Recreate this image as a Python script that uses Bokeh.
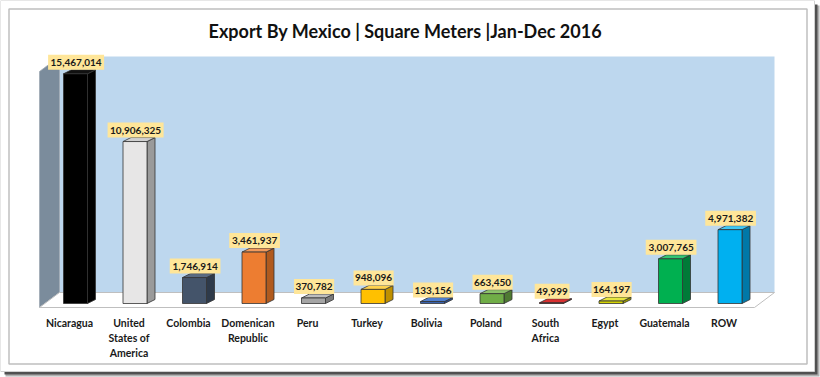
from bokeh.plotting import figure
from bokeh.models import Range1d, ColumnDataSource
from bokeh.core.properties import value
from bokeh.embed import file_html
from bokeh.resources import INLINE

# ---------------- data ----------------
countries = ["Nicaragua", "United\nStates of\nAmerica", "Colombia", "Domenican\nRepublic",
             "Peru", "Turkey", "Bolivia", "Poland", "South\nAfrica", "Egypt", "Guatemala", "ROW"]
values = [15467014, 10906325, 1746914, 3461937, 370782, 948096, 133156, 663450,
          49999, 164197, 3007765, 4971382]
title_text = "Export By  Mexico | Square Meters |Jan-Dec 2016"

front_colors = ["#000000", "#E7E6E6", "#44546A", "#ED7D31", "#A5A5A5", "#FFC000",
                "#3A64B0", "#70AD47", "#C00000", "#D4D400", "#00B050", "#00B0F0"]
side_colors = ["#000000", "#9A9A9A", "#2E3A4A", "#B05A1E", "#7A7A7A", "#BF9000",
               "#254A8A", "#4E7A32", "#7A0000", "#9A9A00", "#007A38", "#0078A8"]
top_colors = ["#111111", "#D0D0D0", "#5A6B82", "#F29A5C", "#BDBDBD", "#FFD24D",
              "#4F7FD0", "#8CC26A", "#D83030", "#E6E640", "#33C573", "#40C8F5"]

# ---------------- pixel <-> data mapping ----------------
W, H = 820, 377
X0, DXP = 75.0, 59.5      # pixel x of first category, pixels per category
Y0, S = 303.0, 14.85      # pixel y of zero, pixels per million


def xd(px):
    return (px - X0) / DXP


def yd(py):
    return (Y0 - py) / S * 1e6


p = figure(width=W, height=H, x_range=Range1d(xd(0), xd(W)), y_range=Range1d(yd(H), yd(0)),
           x_axis_type=None, y_axis_type=None, toolbar_location=None,
           output_backend="svg", min_border=0, outline_line_color=None,
           background_fill_color="white", border_fill_color="white")
p.min_border_left = p.min_border_right = p.min_border_top = p.min_border_bottom = 0


def rect_px(x1, y1, x2, y2, **kw):
    p.quad(left=xd(x1), right=xd(x2), top=yd(y1), bottom=yd(y2), **kw)


def poly_px(pts, **kw):
    p.patch([xd(a) for a, b in pts], [yd(b) for a, b in pts], **kw)


# outer picture frame with shadow
rect_px(5, 5, 819, 376, fill_color="#B0B0B0", line_color=None)
rect_px(4, 4, 817, 374, fill_color="#505050", line_color=None)
rect_px(0, 0, 814, 371, fill_color="white", line_color="#D0D0D0", line_width=1)
rect_px(8.5, 8.5, 806.5, 363.5, fill_color="white", line_color="#BFBFBF", line_width=1.5)

# title
p.text(x=[xd(407)], y=[yd(30)], text=[title_text], text_align="center", text_baseline="middle",
       text_font=value("Lato"), text_font_style="bold", text_font_size="18px", text_color="#111111")

# 3D walls
rect_px(59, 56, 774, 292, fill_color="#BDD7EE", line_color=None)
poly_px([(39, 307), (39, 71), (59, 56), (59, 292)], fill_color="#7B8C9C", line_color="#A0AAB4", line_width=0.8)
poly_px([(39, 307), (59, 292), (774, 292), (754, 307)], fill_color="#FFFFFF", line_color="#BFBFBF", line_width=1)

# bars
n = len(values)
xs = list(range(n))
bw = 24 / DXP
ddx = 8 / DXP
ddy = 4 / S * 1e6

side_xs, side_ys, top_xs, top_ys = [], [], [], []
for i, v in zip(xs, values):
    r = i + bw / 2
    l = i - bw / 2
    side_xs.append([r, r + ddx, r + ddx, r])
    side_ys.append([0, ddy, v + ddy, v])
    top_xs.append([l, l + ddx, r + ddx, r])
    top_ys.append([v, v + ddy, v + ddy, v])

p.patches(side_xs, side_ys, fill_color=side_colors, line_color="#333333", line_width=0.8)
p.patches(top_xs, top_ys, fill_color=top_colors, line_color="#333333", line_width=0.8)
p.vbar(x=xs, width=bw, top=values, bottom=0, fill_color=front_colors, line_color="#333333", line_width=0.8)

# value labels
labels = [f"{v:,}" for v in values]
lab_w = [5.3 * len(s) + 3 for s in labels]
lab_y = [v + 11.5 / S * 1e6 for v in values]
src = ColumnDataSource(dict(x=[x + 0.01 for x in xs], y=lab_y, w=lab_w, t=labels))
p.rect(x="x", y="y", width="w", height=15, width_units="screen", height_units="screen",
       source=src, fill_color="#FFE699", line_color=None)
p.text(x="x", y="y", text="t", source=src, text_align="center", text_baseline="middle",
       text_font=value("Lato"), text_font_style="bold", text_font_size="10px", text_color="#1A1A1A")

# category labels
p.text(x=[x - 6 / DXP for x in xs], y=[yd(316)] * n, text=countries, text_align="center",
       text_baseline="top", text_line_height=1.25,
       text_font=value("Lato"), text_font_style="bold", text_font_size="10.5px", text_color="#1A1A1A")

open("out.html", "w").write(file_html(p, INLINE))
